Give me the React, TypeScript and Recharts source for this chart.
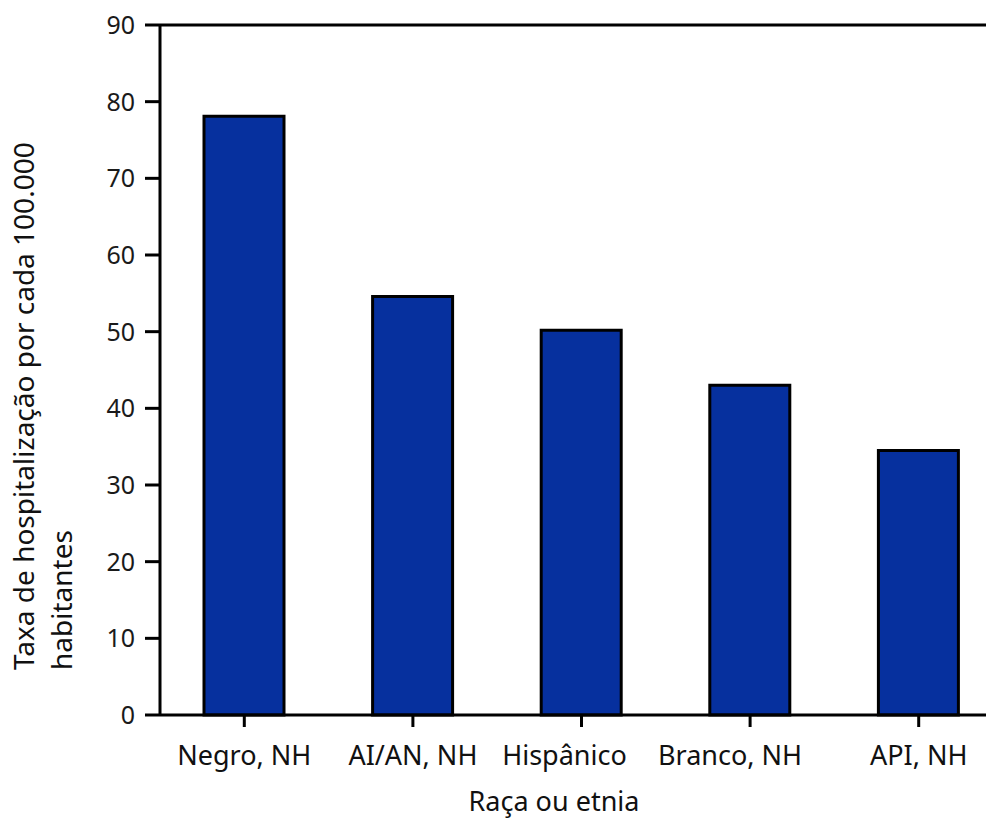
import React from 'react';
import { BarChart, Bar, XAxis, YAxis, ReferenceLine, Label } from 'recharts';

const categories = ['Negro, NH', 'AI/AN, NH', 'Hispânico', 'Branco, NH', 'API, NH'];
const rates = [78.1, 54.6, 50.2, 43.0, 34.5];
const yTicks = [0, 10, 20, 30, 40, 50, 60, 70, 80, 90];

const data = categories.map((name, i) => ({ name, rate: rates[i] }));

const FONT = '"Noto Sans", "Open Sans", sans-serif';

// the translated labels in the original sit a little off their tick
const labelNudge: Record<string, number> = { 'Hispânico': -17, 'Branco, NH': -20 };

const XTick = (props: any) => {
  const { x, y, payload } = props;
  const dx = labelNudge[payload.value] || 0;
  return (
    <text x={x + dx} y={y + 38} textAnchor="middle" fill="#111" fontSize={27} fontFamily={FONT}>
      {payload.value}
    </text>
  );
};

const YTick = (props: any) => {
  const { x, y, payload } = props;
  return (
    <text x={x} y={y + 9} textAnchor="end" fill="#1a1a1a" fontSize={25} fontFamily={FONT}>
      {payload.value}
    </text>
  );
};

// two-line rotated title, left aligned (bottom end) like the original
const YTitle = () => (
  <text transform="rotate(-90)" fill="#111" fontSize={28} fontFamily={FONT} textAnchor="start">
    <tspan x={-670} y={34}>Taxa de hospitalização por cada 100.000</tspan>
    <tspan x={-670} y={72}>habitantes</tspan>
  </text>
);

const XTitle = (props: any) => {
  const { viewBox } = props;
  return (
    <text x={viewBox.x + 394} y={811} textAnchor="middle" fill="#111" fontSize={27} fontFamily={FONT}>
      Raça ou etnia
    </text>
  );
};

const App: React.FC = () => {
  return (
    <div style={{ position: 'fixed', left: 0, top: 0, width: 986, height: 821, overflow: 'hidden', background: '#fff' }}>
      <BarChart
        width={1003}
        height={821}
        data={data}
        margin={{ top: 25, right: 0, bottom: 0, left: 0 }}
        barCategoryGap={0}
      >
        <YAxis
          width={160}
          domain={[0, 90]}
          ticks={yTicks}
          interval={0}
          axisLine={{ stroke: '#000', strokeWidth: 3 }}
          tickLine={{ stroke: '#000', strokeWidth: 3 }}
          tickSize={15}
          tickMargin={10}
          tick={<YTick />}
          label={<YTitle />}
        />
        <XAxis
          dataKey="name"
          height={106}
          interval={0}
          axisLine={{ stroke: '#000', strokeWidth: 3 }}
          tickLine={{ stroke: '#000', strokeWidth: 3 }}
          tickSize={12}
          tickMargin={0}
          tick={<XTick />}
        >
          <Label content={<XTitle />} />
        </XAxis>
        <ReferenceLine y={90} stroke="#000" strokeWidth={3} />
        <Bar dataKey="rate" fill="#06309e" stroke="#000" strokeWidth={3} barSize={80} isAnimationActive={false} />
      </BarChart>
    </div>
  );
};

export default App;
